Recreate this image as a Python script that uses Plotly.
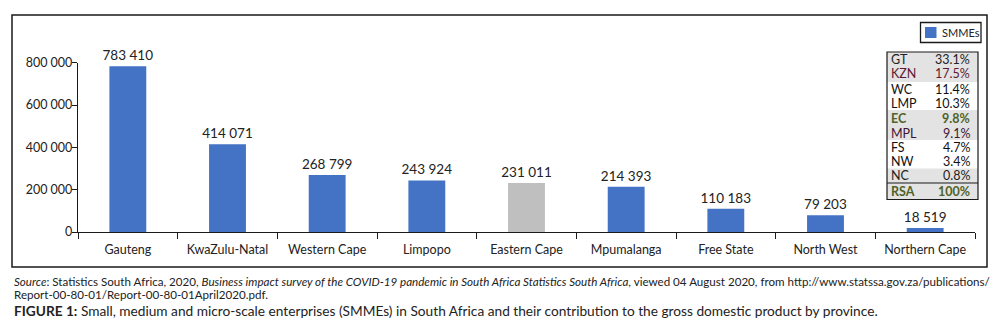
import plotly.graph_objects as go

# The page body has an 8px margin, so the figure is drawn 8px in from the corner.
OFF = 8
W, H = 1006 - 2 * OFF, 330 - 2 * OFF

provinces = ["Gauteng", "KwaZulu-Natal", "Western Cape", "Limpopo", "Eastern Cape",
             "Mpumalanga", "Free State", "North West", "Northern Cape"]
smmes = [783410, 414071, 268799, 243924, 231011, 214393, 110183, 79203, 18519]
bar_colors = ["#4472C4", "#4472C4", "#4472C4", "#4472C4", "#BFBFBF",
              "#4472C4", "#4472C4", "#4472C4", "#4472C4"]
y_ticks = [0, 200000, 400000, 600000, 800000]

table_abbr = ["GT", "KZN", "WC", "LMP", "EC", "MPL", "FS", "NW", "NC", "RSA"]
table_share = [33.1, 17.5, 11.4, 10.3, 9.8, 9.1, 4.7, 3.4, 0.8, 100]
table_color = ["#222222", "#5e1a33", "#111111", "#111111", "#4f6228",
               "#3f1533", "#111111", "#111111", "#222222", "#4f6228"]
table_bold = [False, False, False, False, True, False, False, False, False, True]

FONT = "Lato"
TXT = "#222222"


def px(x):
    return (x - OFF) / W


def py(y):
    return 1 - (y - OFF) / H


fig = go.Figure()
fig.add_trace(go.Bar(
    x=provinces, y=smmes, marker=dict(color=bar_colors, line=dict(width=0)),
    texttemplate="%{y:,}", textposition="outside", cliponaxis=False,
    constraintext="none",
    textfont=dict(family=FONT, size=13.5, color=TXT), name="SMMEs",
    showlegend=False,
))

shapes = []
annotations = []

# outer frame
shapes.append(dict(type="rect", xref="paper", yref="paper",
                   x0=px(12), x1=px(987), y0=py(267), y1=py(15),
                   line=dict(color="#1a1a1a", width=1.5)))

# legend
shapes.append(dict(type="rect", xref="paper", yref="paper",
                   x0=px(920.5), x1=px(981), y0=py(42.5), y1=py(22.5),
                   line=dict(color="#1a1a1a", width=1.3), fillcolor="white"))
shapes.append(dict(type="rect", xref="paper", yref="paper",
                   x0=px(925), x1=px(936.5), y0=py(38), y1=py(27),
                   line=dict(width=0), fillcolor="#4472C4"))
annotations.append(dict(x=px(940), y=py(32.5), xref="paper", yref="paper",
                        text="SMMEs", showarrow=False, xanchor="left", yanchor="middle",
                        font=dict(family=FONT, size=11, color=TXT)))

# table bands
bands = [(52, 82, "#e3e3e3"), (82, 110, "#ffffff"), (110, 140, "#e3e3e3"),
         (140, 168.5, "#ffffff"), (168.5, 183, "#e3e3e3"), (183, 199.5, "#e3e3e3")]
for y0, y1, c in bands:
    shapes.append(dict(type="rect", xref="paper", yref="paper",
                       x0=px(887), x1=px(978), y0=py(y1), y1=py(y0),
                       line=dict(width=0), fillcolor=c, layer="below"))
shapes.append(dict(type="rect", xref="paper", yref="paper",
                   x0=px(887), x1=px(978), y0=py(199.5), y1=py(52),
                   line=dict(color="#1a1a1a", width=1.2)))
shapes.append(dict(type="line", xref="paper", yref="paper",
                   x0=px(887), x1=px(978), y0=py(183), y1=py(183),
                   line=dict(color="#1a1a1a", width=1.2)))

row_y = [60, 73, 89.5, 104, 118.5, 133, 147, 161.5, 175.5, 191]
for ab, sh, col, b, yy in zip(table_abbr, table_share, table_color, table_bold, row_y):
    t1 = f"<b>{ab}</b>" if b else ab
    t2 = f"{sh:g}%"
    t2 = f"<b>{t2}</b>" if b else t2
    annotations.append(dict(x=px(889), y=py(yy), xref="paper", yref="paper", text=t1,
                            showarrow=False, xanchor="left", yanchor="middle",
                            font=dict(family=FONT, size=12.5, color=col)))
    annotations.append(dict(x=px(972), y=py(yy), xref="paper", yref="paper", text=t2,
                            showarrow=False, xanchor="right", yanchor="middle",
                            font=dict(family=FONT, size=12.5, color=col)))

# captions
annotations.append(dict(
    x=px(12), y=py(281), xref="paper", yref="paper", showarrow=False,
    xanchor="left", yanchor="middle", align="left",
    text=("<i>Source</i>: Statistics South Africa, 2020, <i>Business impact survey of the COVID-19 "
          "pandemic in South Africa Statistics South Africa</i>, viewed 04 August 2020, from "
          "http://www.statssa.gov.za/publications/"),
    font=dict(family=FONT, size=11.6, color=TXT)))
annotations.append(dict(
    x=px(12), y=py(294.5), xref="paper", yref="paper", showarrow=False,
    xanchor="left", yanchor="middle", align="left",
    text="Report-00-80-01/Report-00-80-01April2020.pdf.",
    font=dict(family=FONT, size=11.6, color=TXT)))
annotations.append(dict(
    x=px(12), y=py(310), xref="paper", yref="paper", showarrow=False,
    xanchor="left", yanchor="middle", align="left",
    text=("<b>FIGURE 1:</b> Small, medium and micro-scale enterprises (SMMEs) in South Africa "
          "and their contribution to the gross domestic product by province."),
    font=dict(family=FONT, size=13.7, color=TXT)))

fig.update_layout(
    width=W, height=H, margin=dict(l=0, r=0, t=0, b=0, autoexpand=False),
    paper_bgcolor="white", plot_bgcolor="white",
    separators=". ", bargap=0.63,
    font=dict(family=FONT, color=TXT),
    shapes=shapes, annotations=annotations, showlegend=False,
    xaxis=dict(domain=[px(78), px(975)], showline=True, linecolor="#1a1a1a", linewidth=1.3,
               ticks="outside", tickson="boundaries", ticklen=6, tickcolor="#1a1a1a",
               tickwidth=1.2, tickfont=dict(family=FONT, size=12.5, color=TXT),
               ticklabelstandoff=6,
               showgrid=False, fixedrange=True, automargin=False),
    yaxis=dict(domain=[py(232), py(62.7)], range=[0, 800000], showline=True,
               linecolor="#1a1a1a", linewidth=1.3, ticks="outside", ticklen=5,
               tickcolor="#1a1a1a", tickwidth=1.2, tickvals=y_ticks, tickformat=",",
               ticklabelstandoff=-3,
               tickfont=dict(family=FONT, size=12.5, color=TXT), showgrid=False,
               zeroline=False, fixedrange=True, automargin=False),
)

fig.write_html("out.html")
